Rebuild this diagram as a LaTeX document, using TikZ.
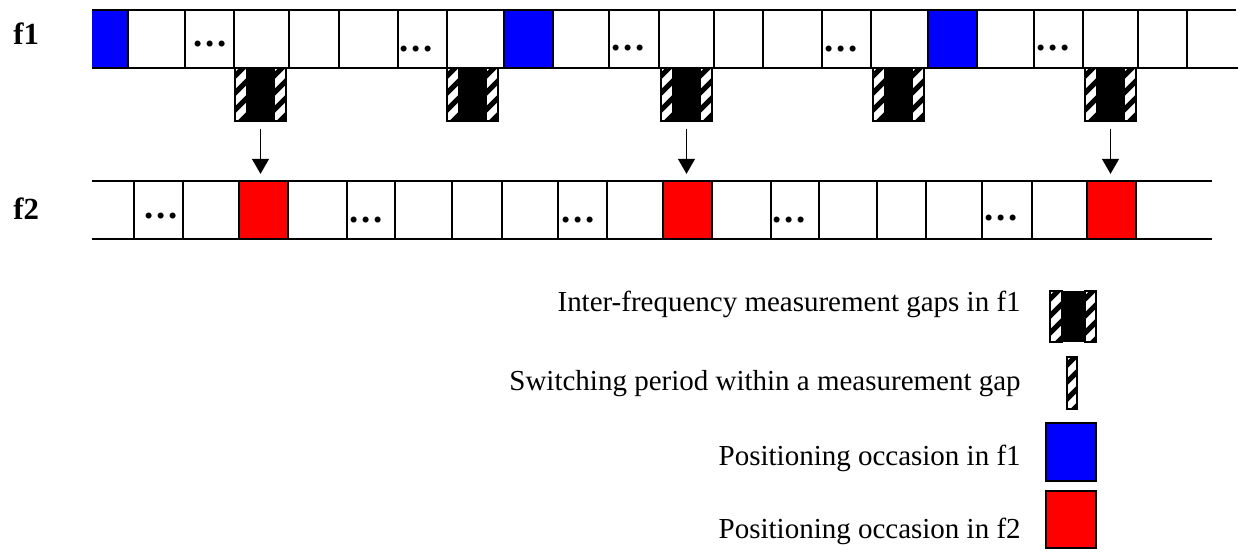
\documentclass[tikz,border=0pt]{standalone}
\usepackage{fontspec}
\setmainfont{Liberation Serif}
\usetikzlibrary{positioning,arrows.meta}

% striped bar: #1,#2 top left corner, #3 width, #4 height
\newcommand\hatchbar[4]{
  \begin{scope}
    \clip (#1,#2) rectangle ++(#3,#4);
    \fill[white] (#1,#2) rectangle ++(#3,#4);
    \foreach \k in {0,...,5}
      \draw[line width=3pt] (#1-2,#2+\k*17+10) -- ++(#3+4,-#3-4);
  \end{scope}
  \draw[line width=0.6pt] (#1,#2) rectangle ++(#3,#4);
}
\newcommand\celldots{.\kern1.6pt.\kern1.6pt.}

\begin{document}
\begin{tikzpicture}[x=0.02cm,y=-0.02cm,
  cell/.style={line width=1.1pt},
  gapcore/.style={fill=black,draw=black,line width=0.6pt,minimum width=5.4mm,minimum height=10.6mm,inner sep=0pt},
  occasion/.style={draw=black,line width=1.1pt,minimum width=9.8mm,minimum height=11.6mm,inner sep=0pt},
  band/.style={font=\fontsize{17.5}{20}\selectfont\bfseries,inner sep=0pt,anchor=base west},
  legend/.style={font=\fontsize{16.5}{20}\selectfont,inner sep=0pt,anchor=base east},
  ellip/.style={font=\fontsize{21}{24}\selectfont\bfseries,inner sep=0pt,anchor=base west},
  drop/.style={line width=1pt,-{Triangle[length=8.5pt,width=9.5pt]},shorten <=4pt,shorten >=3.5pt}]
\useasboundingbox (0,0) rectangle (1245,552);

\node[band] (f1) at (13,44) {f1};
\node[band] (f2) at (13,219) {f2};

% f1 carrier
\fill[blue] (92,10) rectangle (128,68);
\fill[blue] (504,10) rectangle (553,68);
\fill[blue] (928,10) rectangle (977,68);
\draw[cell] (92,10) -- (1236,10);
\draw[cell] (92,68) -- (1238,68);
\foreach \x in {128,185,234,289,339,398,447,504,553,609,659,714,763,822,871,928,977,1034,1083,1138,1187}
  \draw[cell] (\x,10) -- (\x,68);
\foreach \x/\y/\n in {193/46/1,399/51/2,611/50/3,824/51/4,1036/50/5}
  \node[ellip] (fdots\n) at (\x,\y) {\celldots};

% measurement gaps
\foreach \x/\n in {235/1,447/2,661/3,873/4,1085/5}{
  \hatchbar{\x}{68}{12}{53}
  \hatchbar{\x+39}{68}{12}{53}
  \node[gapcore] (gap\n) at (\x+25.5,94.5) {};
}

% f2 carrier
\draw[cell] (92,181) -- (1212,181);
\draw[cell] (92,239) -- (1212,239);
\foreach \x in {134,183,239,288,347,395,452,502,558,607,663,712,771,819,877,926,982,1032,1087,1136}
  \draw[cell] (\x,181) -- (\x,239);
\foreach \x/\y/\n in {144/218/1,349/222/2,561/222/3,772/222/4,984/220/5}
  \node[ellip] (sdots\n) at (\x,\y) {\celldots};
\node[occasion,fill=red] (pos1) at (263.5,210) {};
\node[occasion,fill=red] (pos2) at (687.5,210) {};
\node[occasion,fill=red] (pos3) at (1111.5,210) {};

\draw[drop] (gap1.south) -- (gap1.south |- pos1.north);
\draw[drop] (gap3.south) -- (gap3.south |- pos2.north);
\draw[drop] (gap5.south) -- (gap5.south |- pos3.north);

% legend
\node[legend] (lgap) at (1021,311) {Inter-frequency measurement gaps in f1};
\hatchbar{1050}{291}{12}{51}
\hatchbar{1085}{291}{11}{51}
\fill (1062,291) rectangle (1085,342);
\node[legend] (lswitch) at (1021,390) {Switching period within a measurement gap};
\hatchbar{1067}{357}{10}{52}
\node[legend] (lpos1) at (1021,465) {Positioning occasion in f1};
\draw[line width=1.1pt,fill=blue] (1046,423) rectangle (1096,481);
\node[legend] (lpos2) at (1021,538) {Positioning occasion in f2};
\draw[line width=1.1pt,fill=red] (1046,491) rectangle (1096,548);
\end{tikzpicture}
\end{document}
